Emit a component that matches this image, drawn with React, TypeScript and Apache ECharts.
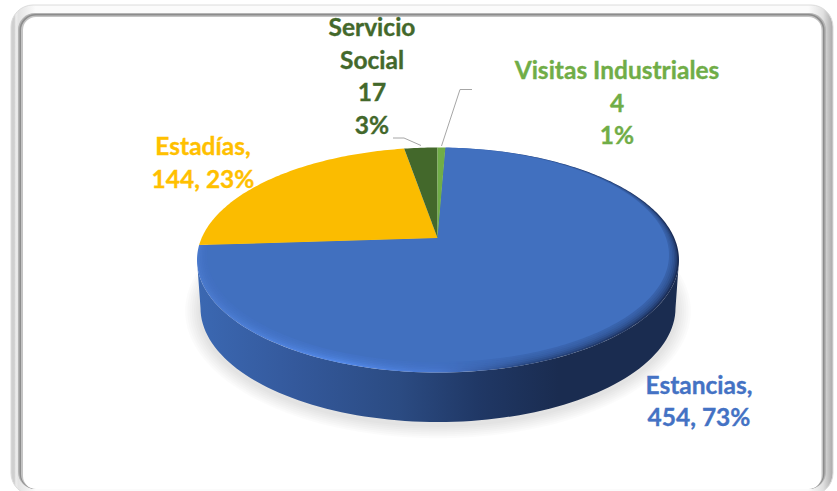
import React, { useEffect, useRef } from "react";
import * as echarts from "echarts";

const categories = ["Estancias", "Estadías", "Servicio Social", "Visitas Industriales"];
const values = [454, 144, 17, 4];
const sliceColors = ["#4170BF", "#FBBC00", "#43682B", "#70AD47"];
const labelColors = ["#4472C4", "#FFC000", "#43682B", "#70AD47"];

const labelLines = [
  ["Estancias,", "454, 73%"],
  ["Estadías,", "144, 23%"],
  ["Servicio", "Social", "17", "3%"],
  ["Visitas Industriales", "4", "1%"],
];
const labelBoxes = [
  { x: 699, y: 384, step: 32.5 },
  { x: 203, y: 145, step: 33 },
  { x: 372, y: 26.5, step: 32.7 },
  { x: 617, y: 69.5, step: 32.5 },
];
const leaders = [
  null,
  null,
  [[393, 138], [404, 138], [421, 145.5]],
  [[472, 89.5], [460, 89.5], [441.5, 146]],
];

const FONT = "Lato, Carlito, 'Open Sans', sans-serif";
const APEX = { x: 437.5, y: 238 };
const TOP = { cx: 438, cy: 260, rx: 241, ry: 112.5 };
const INNER = { cx: 438, cy: 255, rx: 231, ry: 107 };
const BASE = { cx: 438, cy: 308, rx: 237.5, ry: 114 };
const START_ANGLE = 2.33;
const RIM_LAYERS = 6;
const SHADOW_LAYERS = 7;

const total = values.reduce((a, b) => a + b, 0);

function rimPoint(deg: number, e: typeof TOP) {
  const th = (deg * Math.PI) / 180;
  const dx = TOP.rx * Math.sin(th);
  const dy = -TOP.ry * Math.cos(th);
  const ox = (APEX.x - e.cx) / e.rx;
  const oy = (APEX.y - e.cy) / e.ry;
  const ux = dx / e.rx;
  const uy = dy / e.ry;
  const a = ux * ux + uy * uy;
  const b = 2 * (ox * ux + oy * uy);
  const c = ox * ox + oy * oy - 1;
  const t = (-b + Math.sqrt(b * b - 4 * a * c)) / (2 * a);
  return [APEX.x + t * dx, APEX.y + t * dy];
}

function slicePoints(from: number, to: number, e: typeof TOP) {
  const pts = [[APEX.x, APEX.y]];
  const n = Math.max(2, Math.ceil(to - from));
  for (let i = 0; i <= n; i++) pts.push(rimPoint(from + ((to - from) * i) / n, e));
  return pts;
}

function ellipseArc(e: typeof TOP, from: number, to: number) {
  const pts: number[][] = [];
  for (let d = from; d <= to; d += 2) {
    const r = (d * Math.PI) / 180;
    pts.push([e.cx + e.rx * Math.cos(r), e.cy + e.ry * Math.sin(r)]);
  }
  return pts;
}

const lerpEllipse = (a: typeof TOP, b: typeof TOP, t: number) => ({
  cx: a.cx + (b.cx - a.cx) * t,
  cy: a.cy + (b.cy - a.cy) * t,
  rx: a.rx + (b.rx - a.rx) * t,
  ry: a.ry + (b.ry - a.ry) * t,
});

const grad = (stops: [number, string][], x2 = 1, y2 = 0) =>
  new echarts.graphic.LinearGradient(0, 0, x2, y2, stops.map(([offset, color]) => ({ offset, color })));

function renderSlice(params: any, api: any) {
  const i = params.dataIndex;
  const before = values.slice(0, i).reduce((a, b) => a + b, 0);
  const from = START_ANGLE + (before / total) * 360;
  const to = from + (api.value(0) / total) * 360;
  const children: any[] = [];

  if (i === 0) {
    for (let k = SHADOW_LAYERS; k >= 1; k--) {
      children.push({
        type: "polygon",
        shape: {
          points: ellipseArc({ cx: BASE.cx, cy: BASE.cy + 3, rx: BASE.rx + k * 2.2, ry: BASE.ry + k * 1.9 }, 0, 360),
        },
        style: { fill: "rgba(0,0,0,0.017)" },
      });
    }
    const front = ellipseArc(TOP, 0, 180).concat(ellipseArc(BASE, 0, 180).reverse());
    children.push({
      type: "polygon",
      shape: { points: front },
      style: {
        fill: grad([
          [0, "#3B68B2"],
          [0.2, "#34599C"],
          [0.42, "#2B4B82"],
          [0.58, "#203866"],
          [0.75, "#1A2C50"],
          [1, "#1A2C50"],
        ]),
      },
    });
    children.push({
      type: "polygon",
      shape: { points: slicePoints(from, to, TOP) },
      style: {
        fill: grad([
          [0, "#4A79CC"],
          [0.3, "#5288E8"],
          [0.5, "#4877CE"],
          [0.68, "#2A4A85"],
          [1, "#1A2C55"],
        ]),
      },
    });
    for (let k = 1; k <= RIM_LAYERS; k++) {
      children.push({
        type: "polygon",
        shape: { points: slicePoints(from, to, lerpEllipse(TOP, INNER, k / RIM_LAYERS)) },
        style: { fill: sliceColors[i], opacity: k === RIM_LAYERS ? 1 : 0.28 },
      });
    }
  } else {
    children.push({
      type: "polygon",
      shape: { points: slicePoints(from, to, TOP) },
      style: { fill: sliceColors[i] },
    });
  }

  const box = labelBoxes[i];
  labelLines[i].forEach((line, k) => {
    children.push({
      type: "text",
      style: {
        text: line,
        x: box.x,
        y: box.y + k * box.step,
        align: "center",
        verticalAlign: "middle",
        fill: labelColors[i],
        stroke: labelColors[i],
        lineWidth: 0.35,
        font: `bold 24.5px ${FONT}`,
      },
    });
  });
  const lead = leaders[i];
  if (lead) {
    children.push({
      type: "polyline",
      shape: { points: lead },
      style: { fill: "none", stroke: "#A6A6A6", lineWidth: 1 },
    });
  }
  return { type: "group", children };
}

export default function App() {
  const ref = useRef<HTMLDivElement>(null);
  useEffect(() => {
    const chart = echarts.init(ref.current!, undefined, { renderer: "svg" });
    chart.setOption({
      animation: false,
      backgroundColor: "#ffffff",
      graphic: [
        {
          type: "rect",
          z: -6,
          shape: { x: 11, y: 5, width: 822, height: 490, r: 22 },
          style: {
            fill: grad([
              [0, "#CFCFCF"],
              [0.004, "#CFCFCF"],
              [0.006, "#EDEDED"],
              [0.009, "#E4E4E4"],
              [0.03, "#FBFBFB"],
              [0.97, "#FBFBFB"],
              [0.988, "#E0E0E0"],
              [1, "#A8A8A8"],
            ]),
            stroke: "#DCDCDC",
            lineWidth: 1,
          },
        },
        {
          type: "rect",
          z: -5,
          shape: { x: 18, y: 13, width: 808, height: 476, r: 17 },
          style: { fill: "#B4B4B4" },
        },
        {
          type: "rect",
          z: -4,
          shape: { x: 19.5, y: 14, width: 805, height: 475, r: 16 },
          style: { fill: "#8C8C8C" },
        },
        {
          type: "rect",
          z: -3,
          shape: { x: 21, y: 15.5, width: 802, height: 473.5, r: 15 },
          style: { fill: "#C4C4C4" },
        },
        {
          type: "rect",
          z: -2,
          shape: { x: 23, y: 17, width: 798.5, height: 472, r: 13 },
          style: { fill: "#FFFFFF" },
        },
      ],
      series: [
        {
          type: "custom",
          coordinateSystem: "none",
          silent: true,
          data: categories.map((name, i) => ({ name, value: [values[i]] })),
          renderItem: renderSlice,
        },
      ],
    });
    return () => chart.dispose();
  }, []);
  return <div ref={ref} style={{ position: "absolute", left: 0, top: 0, width: 837, height: 491 }} />;
}
